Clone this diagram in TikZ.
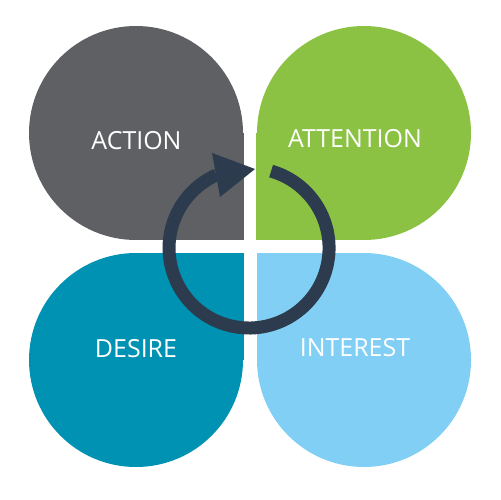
\documentclass[tikz,border=0pt]{standalone}
\usepackage{fontspec}
\setmainfont{Open Sans}
\definecolor{cgray}{RGB}{95,96,100}
\definecolor{cgreen}{RGB}{139,194,68}
\definecolor{cteal}{RGB}{0,146,178}
\definecolor{cblue}{RGB}{129,207,244}
\definecolor{cnavy}{RGB}{44,59,78}
\begin{document}
\begin{tikzpicture}[x=0.02cm,y=-0.02cm,
  lbl/.style={text=white,font=\fontsize{14.2}{16}\selectfont,inner sep=0pt,anchor=center}]
\useasboundingbox (0,0) rectangle (500,500);
% ACTION (gray, square corner bottom-right)
\fill[cgray] (136,133) circle[radius=107];
\fill[cgray] (136,133) rectangle (244,240);
% ATTENTION (green, square corner bottom-left)
\fill[cgreen] (364,133) circle[radius=107];
\fill[cgreen] (364,133) rectangle (256,240);
% DESIRE (teal, square corner top-right)
\fill[cteal] (136,360) circle[radius=107];
\fill[cteal] (136,360) rectangle (244,253);
% INTEREST (light blue, square corner top-left)
\fill[cblue] (364,360) circle[radius=107];
\fill[cblue] (364,360) rectangle (257,253);
% labels
\node[lbl] (action) at (136.5,140.5) {ACTION};
\node[lbl] (attention) at (355,138.5) {ATTENTION};
\node[lbl] (desire) at (136,348.5) {DESIRE};
\node[lbl] (interest) at (355,348) {INTEREST};
% circular arrow
\coordinate (cc) at (249,248);
\draw[cnavy,line width=0.26cm] (271.1,171.1) arc[start angle=-74,end angle=246,radius=80];
\coordinate (tip) at (255,169);
\coordinate (b1) at (212,153);
\coordinate (b2) at (220,197);
\fill[cnavy] (tip) -- (b1) -- (b2) -- cycle;
\end{tikzpicture}
\end{document}
